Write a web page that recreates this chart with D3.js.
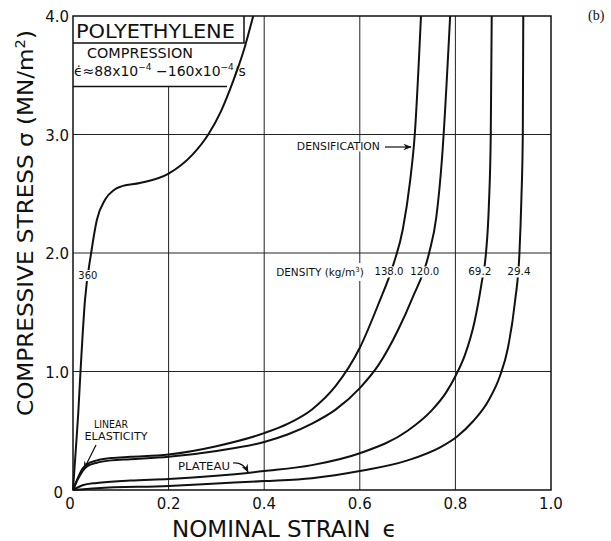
<!DOCTYPE html>
<meta charset="utf-8">
<head>
  <title>Polyethylene compression</title>
  <script src="https://d3js.org/d3.v7.min.js"></script>
  <style>
    body { margin: 0; background: #fff; }
    text { font-family: "DejaVu Sans", sans-serif; fill: #111; }
  </style>
</head>
<body>
  <svg id="chart" width="611" height="541"></svg>
  <script>
    // stress-strain curves, [strain, stress MN/m2]
    var curve360 = [[0,0],[0.006,0.35],[0.011,0.65],[0.015,0.95],[0.025,1.6],[0.038,2.0],[0.05,2.28],
                    [0.067,2.45],[0.085,2.53],[0.1,2.56],[0.14,2.59],[0.2,2.67],[0.25,2.83],[0.283,3.0],
                    [0.31,3.2],[0.335,3.45],[0.358,3.72],[0.377,4.0]];
    var curve138 = [[0,0],[0.01,0.1],[0.02,0.18],[0.03,0.22],[0.05,0.25],[0.08,0.27],[0.12,0.28],
                    [0.2,0.3],[0.3,0.37],[0.4,0.48],[0.45,0.56],[0.5,0.68],[0.55,0.88],[0.6,1.2],
                    [0.64,1.58],[0.67,1.9],[0.69,2.2],[0.705,2.6],[0.715,3.0],[0.728,4.0]];
    var curve120 = [[0,0],[0.01,0.09],[0.02,0.16],[0.03,0.2],[0.05,0.23],[0.08,0.25],[0.12,0.26],
                    [0.2,0.28],[0.3,0.33],[0.4,0.405],[0.45,0.47],[0.5,0.56],[0.55,0.68],[0.6,0.86],
                    [0.64,1.06],[0.68,1.35],[0.71,1.62],[0.745,2.0],[0.76,2.3],[0.772,2.8],[0.789,4.0]];
    var curve69 = [[0,0],[0.02,0.04],[0.05,0.06],[0.12,0.08],[0.2,0.093],[0.3,0.12],[0.4,0.16],
                   [0.5,0.21],[0.6,0.31],[0.7,0.5],[0.75,0.67],[0.78,0.82],[0.8,0.96],[0.82,1.14],
                   [0.84,1.42],[0.855,1.75],[0.864,2.0],[0.87,2.4],[0.874,3.0],[0.876,4.0]];
    var curve29 = [[0,0],[0.05,0.015],[0.2,0.034],[0.3,0.055],[0.4,0.075],[0.5,0.1],[0.6,0.16],
                   [0.7,0.25],[0.768,0.36],[0.803,0.45],[0.837,0.58],[0.87,0.76],[0.893,0.96],
                   [0.91,1.2],[0.925,1.6],[0.934,2.0],[0.938,2.45],[0.941,3.0],[0.942,4.0]];

    var xTicks = [0, 0.2, 0.4, 0.6, 0.8, 1.0];
    var yTicks = [0, 1, 2, 3, 4];
    var xTickLabels = ["0", "0.2", "0.4", "0.6", "0.8", "1.0"];
    var yTickLabels = ["0", "1.0", "2.0", "3.0", "4.0"];
    var densityLabels = ["138.0", "120.0", "69.2", "29.4"];
    var densityLabelX = [0.661, 0.736, 0.851, 0.933];

    var svg = d3.select("#chart");
    var x = d3.scaleLinear().domain([0, 1]).range([73, 551]);
    var y = d3.scaleLinear().domain([0, 4]).range([490, 16]);

    svg.append("defs").append("marker")
      .attr("id", "arrow").attr("viewBox", "0 0 10 10")
      .attr("refX", 9).attr("refY", 5)
      .attr("markerWidth", 7).attr("markerHeight", 7)
      .attr("orient", "auto")
      .append("path").attr("d", "M0,1 L10,5 L0,9 L3,5 Z").attr("fill", "#111");

    // grid
    var grid = svg.append("g").attr("stroke", "#222").attr("stroke-width", 1);
    grid.selectAll(".vx").data([0.2, 0.4, 0.6, 0.8]).enter().append("line")
      .attr("x1", d => x(d)).attr("x2", d => x(d))
      .attr("y1", y(0)).attr("y2", y(4));
    grid.selectAll(".hy").data([1, 2, 3]).enter().append("line")
      .attr("x1", x(0)).attr("x2", x(1))
      .attr("y1", d => y(d)).attr("y2", d => y(d));

    // title box (covers grid)
    svg.append("rect").attr("x", x(0)).attr("y", y(4))
      .attr("width", 160).attr("height", 71).attr("fill", "#fff");
    svg.append("path")
      .attr("d", "M" + x(0) + ",43 H244 V" + y(4))
      .attr("fill", "none").attr("stroke", "#111").attr("stroke-width", 1.5);
    svg.append("line").attr("x1", x(0)).attr("x2", 227).attr("y1", 86.5).attr("y2", 86.5)
      .attr("stroke", "#111").attr("stroke-width", 1.5);
    svg.append("text").attr("x", 76).attr("y", 38).attr("font-size", 20)
      .attr("textLength", 159).attr("lengthAdjust", "spacingAndGlyphs").text("POLYETHYLENE");
    svg.append("text").attr("x", 87).attr("y", 58).attr("font-size", 14)
      .attr("textLength", 106).attr("lengthAdjust", "spacingAndGlyphs").text("COMPRESSION");
    var rate = svg.append("text").attr("x", 74).attr("y", 76).attr("font-size", 14);
    rate.append("tspan").text("ϵ̇≈88x10");
    rate.append("tspan").attr("dy", -6).attr("font-size", 9).text("−4");
    rate.append("tspan").attr("dy", 6).text(" −160x10");
    rate.append("tspan").attr("dy", -6).attr("font-size", 9).text("−4");
    rate.append("tspan").attr("dy", 6).text("/s");

    // curves
    var line = d3.line().x(d => x(d[0])).y(d => y(d[1])).curve(d3.curveMonotoneX);
    svg.append("g").selectAll("path")
      .data([curve360, curve138, curve120, curve69, curve29]).enter().append("path")
      .attr("d", line).attr("fill", "none").attr("stroke", "#111").attr("stroke-width", 2);

    // frame
    svg.append("rect").attr("x", x(0)).attr("y", y(4))
      .attr("width", x(1) - x(0)).attr("height", y(0) - y(4))
      .attr("fill", "none").attr("stroke", "#111").attr("stroke-width", 1.5);

    // tick labels
    svg.append("g").selectAll("text").data(xTicks).enter().append("text")
      .attr("x", d => x(d) + (d === 0 ? -3 : 0)).attr("y", 509)
      .attr("text-anchor", "middle").attr("font-size", 15)
      .text((d, i) => xTickLabels[i]);
    svg.append("g").selectAll("text").data(yTicks).enter().append("text")
      .attr("x", d => d === 0 ? 63 : 69).attr("y", d => y(d) + (d === 0 ? 8 : 6))
      .attr("text-anchor", "end").attr("font-size", 15)
      .text((d, i) => yTickLabels[i]);

    // axis titles
    var xt = svg.append("text").attr("x", 172).attr("y", 537).attr("font-size", 23);
    xt.append("tspan").text("NOMINAL STRAIN");
    xt.append("tspan").attr("dx", 12).text("ϵ");
    var yt = svg.append("text").attr("transform", "translate(33,416) rotate(-90)")
      .attr("font-size", 22).attr("textLength", 386).attr("lengthAdjust", "spacingAndGlyphs");
    yt.append("tspan").text("COMPRESSIVE STRESS σ (MN/m");
    yt.append("tspan").attr("dy", -8).attr("font-size", 14).text("2");
    yt.append("tspan").attr("dy", 8).text(")");

    svg.append("text").attr("x", 588).attr("y", 20).attr("font-size", 14)
      .style("font-family", "'Liberation Serif', serif").text("(b)");

    // labels with white background (interrupt lines)
    function backWhite(t, pad) {
      var b = t.node().getBBox();
      pad = pad || 0;
      svg.insert("rect", function() { return t.node(); })
        .attr("x", b.x - 1).attr("y", b.y + 1 - pad).attr("width", b.width + 2).attr("height", b.height - 2 + 2 * pad)
        .attr("fill", "#fff");
    }
    function label(txt, cx, cy, size, anchor, len) {
      var t = svg.append("text").attr("x", cx).attr("y", cy).attr("font-size", size)
        .attr("text-anchor", anchor || "middle").attr("dominant-baseline", "central").text(txt);
      if (len) t.attr("textLength", len).attr("lengthAdjust", "spacingAndGlyphs");
      backWhite(t);
      return t;
    }

    label("360", x(0.031), y(1.81), 11, "middle", 19);

    var dens = svg.append("text").attr("x", x(0.425)).attr("y", y(1.84) + 4).attr("font-size", 10.5);
    dens.append("tspan").text("DENSITY (kg/m");
    dens.append("tspan").attr("dy", -4).attr("font-size", 7).text("3");
    dens.append("tspan").attr("dy", 4).text(")");
    backWhite(dens, 4);

    densityLabelX.forEach(function(v, i) {
      label(densityLabels[i], x(v), y(1.84), 11, "middle", densityLabels[i].length * 5.8);
    });
    label("DENSIFICATION", x(0.642), y(2.895), 10, "end", 83);
    svg.append("line").attr("x1", 385).attr("x2", 411).attr("y1", 147).attr("y2", 147)
      .attr("stroke", "#111").attr("stroke-width", 1.2).attr("marker-end", "url(#arrow)");

    label("PLATEAU", x(0.274), y(0.2), 11, "middle", 52);
    svg.append("path").attr("d", "M233,463 Q243,462 248,472")
      .attr("fill", "none").attr("stroke", "#111").attr("stroke-width", 1.2).attr("marker-end", "url(#arrow)");

    svg.append("text").attr("x", 111).attr("y", 428).attr("font-size", 11)
      .attr("text-anchor", "middle").attr("textLength", 34).attr("lengthAdjust", "spacingAndGlyphs").text("LINEAR");
    svg.append("text").attr("x", 116).attr("y", 440).attr("font-size", 11)
      .attr("text-anchor", "middle").attr("textLength", 63).attr("lengthAdjust", "spacingAndGlyphs").text("ELASTICITY");
    svg.append("line").attr("x1", 96).attr("x2", 84).attr("y1", 445).attr("y2", 469)
      .attr("stroke", "#111").attr("stroke-width", 1.2).attr("marker-end", "url(#arrow)");
  </script>
</body>
</html>
